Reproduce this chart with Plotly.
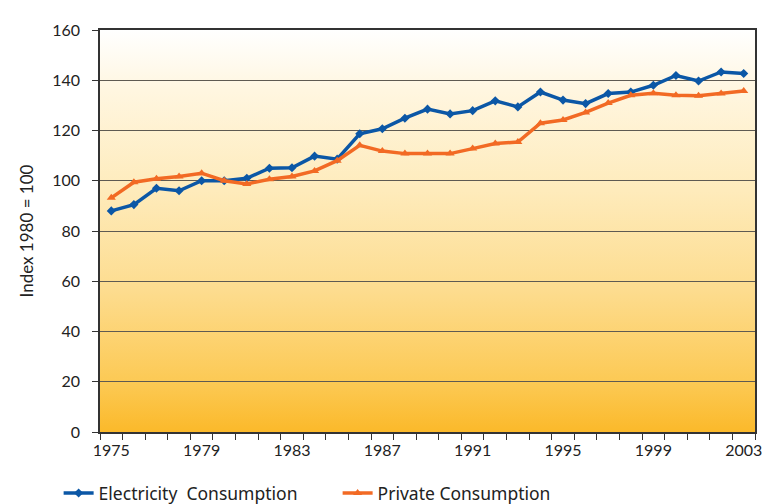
import base64
import plotly.graph_objects as go

years = list(range(1975, 2004))

electricity = [88, 90.5, 97, 96, 100, 100, 101, 105, 105.2, 109.8, 108.6, 118.7, 120.7,
               124.9, 128.5, 126.6, 127.9, 131.8, 129.4, 135.3, 132.1, 130.7, 134.7,
               135.3, 138, 141.9, 139.7, 143.3, 142.7]
private = [93.2, 99.4, 100.8, 101.7, 103, 100, 98.7, 100.6, 101.7, 103.9, 108, 114.1,
           111.8, 110.8, 110.8, 110.8, 112.8, 114.8, 115.4, 122.9, 124.2, 127.2, 130.9,
           134, 134.8, 134, 133.8, 134.7, 135.7]

label_years = [1975, 1979, 1983, 1987, 1991, 1995, 1999, 2003]

# vertical gradient for the plot background (white at top -> gold at bottom)
svg = (
    "<svg xmlns='http://www.w3.org/2000/svg' width='100' height='100' preserveAspectRatio='none'>"
    "<defs><linearGradient id='g' x1='0' y1='0' x2='0' y2='1'>"
    "<stop offset='0' stop-color='#FFFFFF'/>"
    "<stop offset='0.15' stop-color='#FFF6E0'/>"
    "<stop offset='0.4' stop-color='#FEEBBB'/>"
    "<stop offset='0.65' stop-color='#FDDC8E'/>"
    "<stop offset='0.88' stop-color='#FCC953'/>"
    "<stop offset='1' stop-color='#FBB92A'/>"
    "</linearGradient></defs>"
    "<rect width='100' height='100' fill='url(#g)'/></svg>"
)
bg_src = "data:image/svg+xml;base64," + base64.b64encode(svg.encode()).decode()

fig = go.Figure()

fig.add_trace(go.Scatter(
    x=years, y=electricity, name="Electricity  Consumption",
    mode="lines+markers",
    line=dict(color="#0B57A6", width=3.5),
    marker=dict(symbol="diamond", size=7, color="#0B57A6"),
))
fig.add_trace(go.Scatter(
    x=years, y=private, name="Private Consumption",
    mode="lines+markers",
    line=dict(color="#F26A24", width=3.5),
    marker=dict(symbol="triangle-up", size=8, color="#F26A24"),
))

# page body has an 8px margin, so the figure is a bit smaller than the window
fig.update_layout(
    width=767, height=496,
    margin=dict(l=92, r=20, t=17, b=72),
    paper_bgcolor="white",
    plot_bgcolor="rgba(0,0,0,0)",
    font=dict(family="Lato, sans-serif", size=16, color="#222"),
    images=[dict(source=bg_src, xref="paper", yref="paper", x=0, y=1,
                 sizex=1, sizey=1, sizing="stretch", layer="below",
                 xanchor="left", yanchor="top")],
    legend=dict(orientation="h", xref="container", yref="container",
                x=0.066, y=0.022, xanchor="left", yanchor="middle",
                font=dict(family="Noto Sans, sans-serif", size=17.5, color="#222"),
                entrywidth=234, bgcolor="rgba(0,0,0,0)"),
)

fig.update_xaxes(
    range=[1974.5, 2003.5],
    tickmode="array", tickvals=label_years,
    ticks="", showgrid=False,
    showline=True, linecolor="#333", linewidth=1.5, mirror=True,
    minor=dict(tick0=1974.5, dtick=1, ticks="outside", ticklen=6,
               tickcolor="#333", showgrid=False),
    tickfont=dict(size=16),
    ticklabelstandoff=3,
)
fig.update_yaxes(
    range=[0, 160], dtick=20,
    ticks="outside", ticklen=6, tickcolor="#333",
    showgrid=True, gridcolor="#5E5A52", gridwidth=1,
    showline=True, linecolor="#333", linewidth=1.5, mirror=True,
    zeroline=False,
    tickfont=dict(size=16),
    ticklabelstandoff=9,
    title=dict(text="Index 1980 = 100", font=dict(size=17), standoff=14),
)

fig.write_html("out.html")
